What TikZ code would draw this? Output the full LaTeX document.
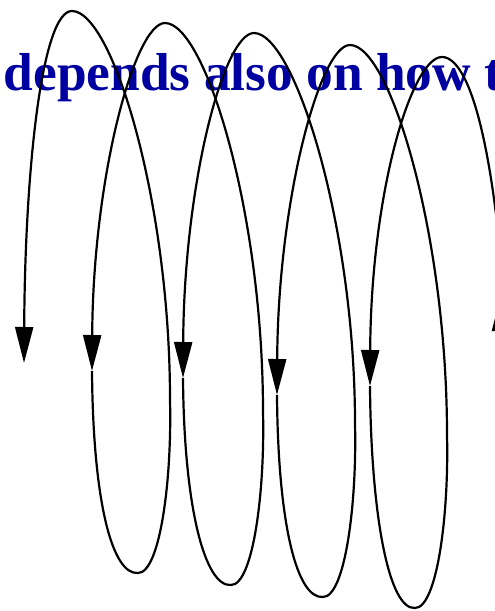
\documentclass[tikz,border=0pt]{standalone}
\usepackage{fontspec}
\setmainfont{Liberation Serif}
\usetikzlibrary{arrows.meta}
\definecolor{labelblue}{RGB}{0,0,160}
\begin{document}
\begin{tikzpicture}[x=1pt, y=-1pt, >={Triangle[length=36pt,width=18pt]},
    wire/.style={->, line width=2.2pt, line join=round}]
    \useasboundingbox (0,0) rectangle (495,611);
    \clip (0,0) rectangle (495,611);
    \node[anchor=base west, inner sep=0pt, text=labelblue,
          font=\fontsize{53.4}{60}\selectfont\bfseries] (label) at (3.5,90) {depends also on how t};
    \coordinate (n0) at (24,363);
    \coordinate (n1) at (92,371);
    \coordinate (n2) at (183,378);
    \coordinate (n3) at (277,395);
    \coordinate (n4) at (370,386);
    \coordinate (n5) at (501,295);
    \coordinate (b1) at (138,573);
    \coordinate (b2) at (231,585);
    \coordinate (b3) at (323,597);
    \coordinate (b4) at (415,608);
    \coordinate (m1) at (170,400);
    \coordinate (m2) at (263,412);
    \coordinate (m3) at (355,424);
    \coordinate (m4) at (447,435);
    \coordinate (p1) at (72,11);
    \coordinate (p2) at (165,23);
    \coordinate (p3) at (254,33);
    \coordinate (p4) at (350,45);
    \coordinate (p5) at (442,57);
    \coordinate (q5) at (510,400);
    \coordinate (q6) at (501,460);
    \draw[wire] (n1) .. controls +(1,130) and +(-26,2) .. (b1) .. controls +(22,0) and +(2,80) .. (m1)
        .. controls +(0,-200) and +(40,0) .. (p1) .. controls +(-30,0) and +(1,-195) .. (n0);
    \draw[wire] (n2) .. controls +(1,130) and +(-26,2) .. (b2) .. controls +(22,0) and +(2,80) .. (m2)
        .. controls +(0,-200) and +(40,0) .. (p2) .. controls +(-30,0) and +(1,-195) .. (n1);
    \draw[wire] (n3) .. controls +(1,130) and +(-26,2) .. (b3) .. controls +(22,0) and +(2,80) .. (m3)
        .. controls +(0,-200) and +(40,0) .. (p3) .. controls +(-30,0) and +(1,-195) .. (n2);
    \draw[wire] (n4) .. controls +(1,130) and +(-26,2) .. (b4) .. controls +(22,0) and +(2,80) .. (m4)
        .. controls +(0,-200) and +(40,0) .. (p4) .. controls +(-30,0) and +(1,-195) .. (n3);
    \draw[wire] (q5) .. controls +(-10,-250) and +(28,0) .. (p5) .. controls +(-30,0) and +(1,-195) .. (n4);
    \draw[wire] (q6) -- (n5);
\end{tikzpicture}
\end{document}
